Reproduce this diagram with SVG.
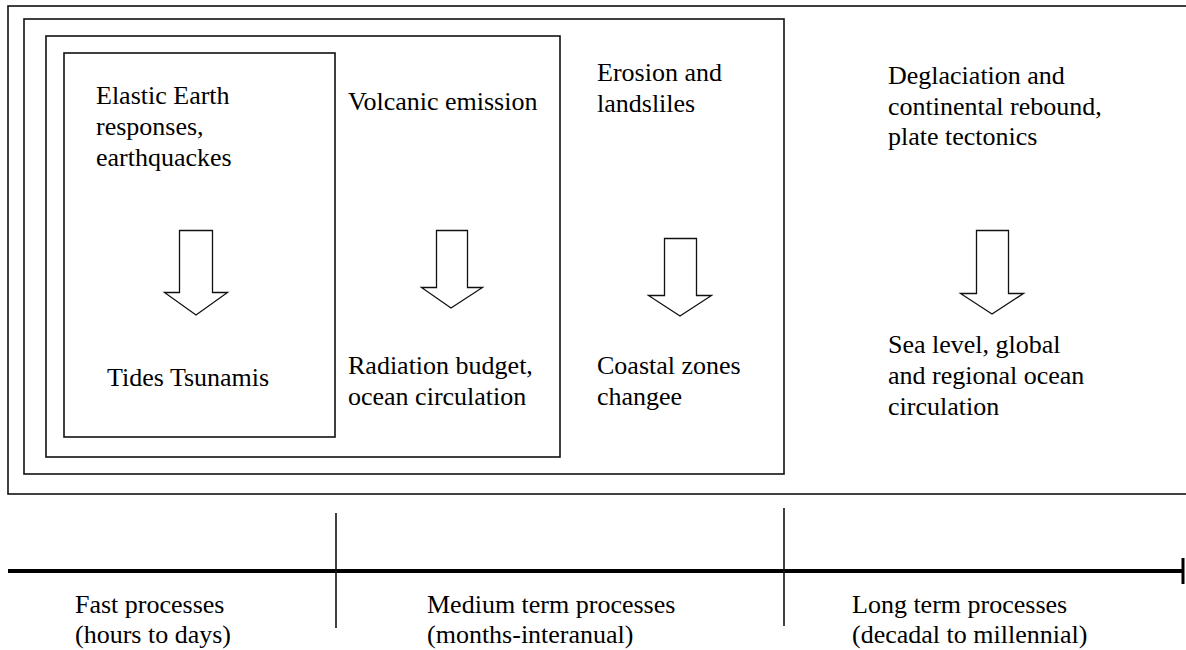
<svg xmlns="http://www.w3.org/2000/svg" width="1186" height="650" viewBox="0 0 1186 650">
<defs>
<path id="arrowShape" d="M-16.5,0 H16.5 V62 H31.5 L0,84.5 L-31.5,62 H-16.5 Z" fill="#fff" stroke="#111" stroke-width="1.3"/>
</defs>
<rect width="1186" height="650" fill="#fff"/>
<g id="outer">
<rect x="8" y="6" width="1180" height="488" fill="none" stroke="#111" stroke-width="1.6"/>
<text x="888" y="84" font-family="Liberation Serif" font-size="26">Deglaciation and</text>
<text x="888" y="115" font-family="Liberation Serif" font-size="26">continental rebound,</text>
<text x="888" y="145" font-family="Liberation Serif" font-size="26">plate tectonics</text>
<text x="888" y="353" font-family="Liberation Serif" font-size="26">Sea level, global</text>
<text x="888" y="384" font-family="Liberation Serif" font-size="26">and regional ocean</text>
<text x="888" y="415" font-family="Liberation Serif" font-size="26">circulation</text>
</g>
<g id="box-medium2">
<rect x="24" y="19" width="760" height="455" fill="none" stroke="#111" stroke-width="1.6"/>
<text x="597" y="81" font-family="Liberation Serif" font-size="26">Erosion and</text>
<text x="597" y="112" font-family="Liberation Serif" font-size="26">landsliles</text>
<text x="597" y="374" font-family="Liberation Serif" font-size="26">Coastal zones</text>
<text x="597" y="405" font-family="Liberation Serif" font-size="26">changee</text>
</g>
<g id="box-medium1">
<rect x="46" y="36" width="514" height="421" fill="none" stroke="#111" stroke-width="1.6"/>
<text x="348" y="110" font-family="Liberation Serif" font-size="26">Volcanic emission</text>
<text x="348" y="374" font-family="Liberation Serif" font-size="26">Radiation budget,</text>
<text x="348" y="405" font-family="Liberation Serif" font-size="26">ocean circulation</text>
</g>
<g id="box-fast">
<rect x="64" y="53" width="271" height="384" fill="none" stroke="#111" stroke-width="1.6"/>
<text x="96" y="104" font-family="Liberation Serif" font-size="26">Elastic Earth</text>
<text x="96" y="135" font-family="Liberation Serif" font-size="26">responses,</text>
<text x="96" y="166" font-family="Liberation Serif" font-size="26">earthquackes</text>
<text x="107" y="386" font-family="Liberation Serif" font-size="26">Tides Tsunamis</text>
</g>
<g id="connectors">
<path d="M179.5,230.5 H212.5 V292.5 H227.5 L196,315 L164.5,292.5 H179.5 Z" fill="#fff" stroke="#111" stroke-width="1.3"/>
<path d="M436.5,230.5 H467.5 V287.5 H482.5 L451,308 L421.5,287.5 H436.5 Z" fill="#fff" stroke="#111" stroke-width="1.3"/>
<path d="M664.5,238.5 H696.5 V295.5 H711.5 L680,316 L648.5,295.5 H664.5 Z" fill="#fff" stroke="#111" stroke-width="1.3"/>
<path d="M976.5,230.5 H1008.5 V293.5 H1023.5 L992,314 L960.5,293.5 H976.5 Z" fill="#fff" stroke="#111" stroke-width="1.3"/>
</g>
<g id="timeline">
<line x1="8" y1="571" x2="1183" y2="571" stroke="#000" stroke-width="4"/>
<line x1="1183" y1="558" x2="1183" y2="584" stroke="#000" stroke-width="3"/>
<line x1="336" y1="513" x2="336" y2="628" stroke="#111" stroke-width="1.6"/>
<line x1="784" y1="508" x2="784" y2="626" stroke="#111" stroke-width="1.6"/>
<text x="75" y="613" font-family="Liberation Serif" font-size="26">Fast processes</text>
<text x="75" y="643" font-family="Liberation Serif" font-size="26">(hours to days)</text>
<text x="427" y="613" font-family="Liberation Serif" font-size="26">Medium term processes</text>
<text x="427" y="643" font-family="Liberation Serif" font-size="26">(months-interanual)</text>
<text x="852" y="613" font-family="Liberation Serif" font-size="26">Long term processes</text>
<text x="852" y="643" font-family="Liberation Serif" font-size="26">(decadal to millennial)</text>
</g>
</svg>
